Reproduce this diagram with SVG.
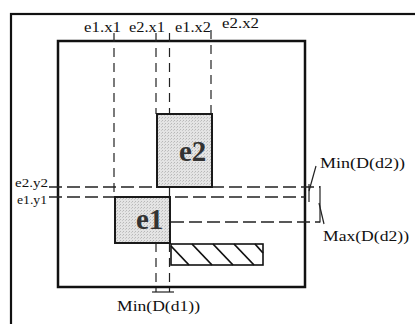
<svg xmlns="http://www.w3.org/2000/svg" width="415" height="324" viewBox="0 0 415 324">
<defs>
<pattern id="stip" width="3" height="3" patternUnits="userSpaceOnUse">
<rect width="3" height="3" fill="#e4e4e4"/>
<rect x="0" y="0" width="1" height="1" fill="#b8b8b8"/>
<rect x="2" y="1" width="1" height="1" fill="#c8c8c8"/>
</pattern>
<style>
.lbl{font-family:"Liberation Serif","DejaVu Serif",serif;font-size:15px;fill:#111;}
.sm{font-size:13px;}
.big{font-family:"Liberation Serif","DejaVu Serif",serif;font-size:29px;font-weight:bold;fill:#333;}
.frame{fill:none;stroke:#111;}
.dv{stroke:#222;stroke-width:1.2;fill:none;stroke-dasharray:9 6;}
.dh{stroke:#222;stroke-width:1.4;fill:none;stroke-dasharray:13 5;}
.sl{stroke:#222;stroke-width:1.2;fill:none;}
.box{fill:url(#stip);stroke:#1a1a1a;stroke-width:2;}
</style>
</defs>
<rect width="415" height="324" fill="#fff"/>
<g id="outer"><rect class="frame" x="11" y="14" width="420" height="330" stroke-width="2.2"/></g>
<g id="inner"><rect class="frame" x="58" y="41" width="247" height="246" stroke-width="2.5"/></g>
<g id="connectors">
<line class="dv" x1="114" y1="33" x2="114" y2="197"/>
<line class="dv" x1="156" y1="33" x2="156" y2="114"/>
<line class="dv" x1="156" y1="243" x2="156" y2="292"/>
<line class="dv" x1="169.5" y1="33" x2="169.5" y2="114" stroke-dasharray="22 3"/>
<line class="sl" x1="169.5" y1="187" x2="169.5" y2="197"/>
<line class="dv" x1="169.5" y1="243" x2="169.5" y2="292"/>
<line class="dv" x1="211" y1="30" x2="211" y2="114" stroke-dasharray="14 5"/>
<line class="dh" x1="49" y1="187" x2="320" y2="187"/>
<line class="dh" x1="49" y1="197" x2="305" y2="197"/>
<line class="dh" x1="171" y1="222" x2="320" y2="222"/>
<line class="sl" x1="152" y1="292" x2="174" y2="292" stroke-width="1.5"/>
<line class="sl" x1="309" y1="184" x2="309" y2="202"/>
<line class="sl" x1="320" y1="186" x2="320" y2="222.5" stroke-width="1.4"/>
<line class="sl" x1="316" y1="166" x2="309" y2="191"/>
<line class="sl" x1="319" y1="203" x2="324" y2="224"/>
</g>
<g id="e2"><rect class="box" x="157" y="114" width="55" height="73"/><text class="big" x="179" y="161">e2</text></g>
<g id="e1"><rect class="box" x="115" y="197" width="55" height="46"/><text class="big" x="136" y="229">e1</text></g>
<g id="hatch">
<rect x="171" y="244" width="92" height="21" fill="none" stroke="#111" stroke-width="1.6"/>
<g stroke="#111" stroke-width="1.8">
<line x1="171" y1="246" x2="189" y2="265"/>
<line x1="192" y1="244" x2="212" y2="265"/>
<line x1="213" y1="244" x2="233" y2="265"/>
<line x1="234" y1="244" x2="254" y2="265"/>
<line x1="255" y1="244" x2="263" y2="253"/>
</g>
</g>
<g id="labels">
<text class="lbl" x="84" y="32" textLength="37" lengthAdjust="spacingAndGlyphs">e1.x1</text>
<text class="lbl" x="129" y="32" textLength="36" lengthAdjust="spacingAndGlyphs">e2.x1</text>
<text class="lbl" x="175" y="32" textLength="36" lengthAdjust="spacingAndGlyphs">e1.x2</text>
<text class="lbl" x="222" y="28" textLength="37" lengthAdjust="spacingAndGlyphs">e2.x2</text>
<text class="lbl sm" x="15" y="187" textLength="33" lengthAdjust="spacingAndGlyphs">e2.y2</text>
<text class="lbl sm" x="17" y="204" textLength="30" lengthAdjust="spacingAndGlyphs">e1.y1</text>
<text class="lbl" x="320" y="168" textLength="85" lengthAdjust="spacingAndGlyphs">Min(D(d2))</text>
<text class="lbl" x="323" y="241" textLength="86" lengthAdjust="spacingAndGlyphs">Max(D(d2))</text>
<text class="lbl" x="117" y="311" textLength="83" lengthAdjust="spacingAndGlyphs">Min(D(d1))</text>
</g>
</svg>
